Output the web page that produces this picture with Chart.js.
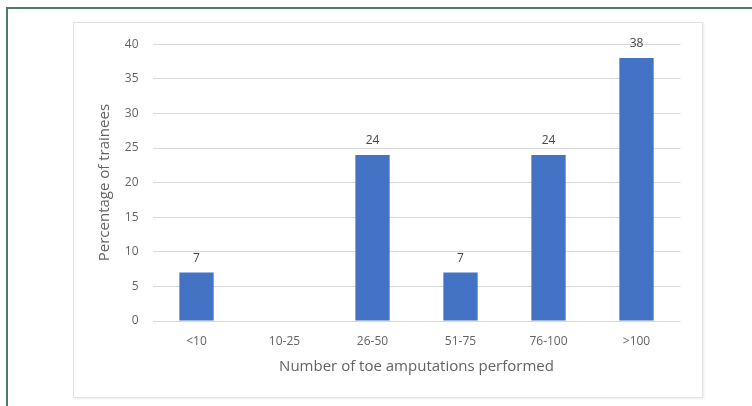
<!DOCTYPE html>
<html>
<head>
<meta charset="utf-8">
<script src="https://cdn.jsdelivr.net/npm/chart.js@4"></script>
<style>
  html, body { margin: 0; padding: 0; background: #fff; }
  body { width: 752px; height: 406px; position: relative; overflow: hidden; }
  .frame-top { position: absolute; left: 6px; top: 7px; width: 746px; height: 2px; background: #4f7a71; }
  .frame-left { position: absolute; left: 6px; top: 7px; width: 2px; height: 399px; background: #4f7a71; }
  .box {
    position: absolute; left: 73px; top: 22px; width: 628px; height: 374px;
    border: 1px solid #e3e3e3; box-shadow: 1px 1px 2px rgba(0,0,0,0.08);
    background: #fff;
  }
  .box canvas { position: absolute; left: 0; top: 0; }
</style>
</head>
<body>
<div class="frame-top"></div>
<div class="frame-left"></div>
<div class="box"><canvas id="toeChart" width="628" height="374"></canvas></div>
<script>
const categories = ['<10', '10-25', '26-50', '51-75', '76-100', '>100'];
const percentages = [7, null, 24, 7, 24, 38];
const yTicks = [0, 5, 10, 15, 20, 25, 30, 35, 40];

const textColor = '#636363';
const fontFamily = '"Open Sans", "Liberation Sans", sans-serif';

// value labels above each bar
const valueLabels = {
  id: 'valueLabels',
  afterDatasetsDraw(chart) {
    const { ctx } = chart;
    const meta = chart.getDatasetMeta(0);
    ctx.save();
    ctx.fillStyle = '#454545';
    ctx.font = '12px ' + fontFamily;
    ctx.textAlign = 'center';
    ctx.textBaseline = 'alphabetic';
    meta.data.forEach((bar, i) => {
      const v = chart.data.datasets[0].data[i];
      if (v == null) return;
      ctx.fillText(String(v), bar.x, bar.y - 11);
    });
    ctx.restore();
  }
};

new Chart(document.getElementById('toeChart'), {
  type: 'bar',
  data: {
    labels: categories,
    datasets: [{
      data: percentages,
      backgroundColor: '#4472c4',
      categoryPercentage: 1.0,
      barPercentage: 0.39
    }]
  },
  options: {
    responsive: false,
    animation: false,
    layout: { padding: { left: 0, top: 17, right: 21.5, bottom: 0 } },
    plugins: {
      legend: { display: false },
      tooltip: { enabled: false }
    },
    scales: {
      x: {
        afterFit(scale) { scale.height = 76; },
        grid: { display: false, drawTicks: false },
        border: { display: false },
        ticks: { color: textColor, font: { family: fontFamily, size: 12 }, padding: 13 },
        title: {
          display: true, text: 'Number of toe amputations performed',
          color: textColor, font: { family: fontFamily, size: 15 }, padding: { bottom: 21 }
        }
      },
      y: {
        min: 0, max: 40,
        afterFit(scale) { scale.width = 78.5; },
        afterBuildTicks(scale) { scale.ticks = yTicks.map(v => ({ value: v })); },
        grid: { color: '#d9d9d9', drawTicks: false },
        border: { display: false },
        ticks: { color: textColor, font: { family: fontFamily, size: 12 }, padding: 14 },
        title: {
          display: true, text: 'Percentage of trainees',
          color: textColor, font: { family: fontFamily, size: 15 }, padding: { top: 22 }
        }
      }
    }
  },
  plugins: [valueLabels]
});
</script>
</body>
</html>
